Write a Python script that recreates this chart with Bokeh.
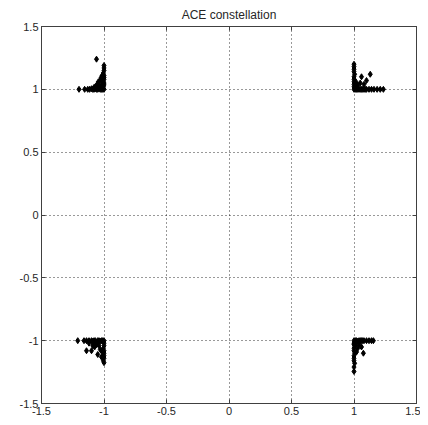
from bokeh.plotting import figure
from bokeh.models import LinearAxis, FixedTicker, Range1d, ColumnDataSource
from bokeh.embed import file_html
from bokeh.resources import INLINE

# ---- data ----
ul_x = [-1.20, -1.155, -1.13, -1.115, -1.10, -1.09, -1.08, -1.07, -1.06, -1.05, -1.04, -1.03, -1.02, -1.01, -1.0,
        -1.005, -1.0, -1.0, -1.005, -1.0, -1.0, -1.0, -1.005, -1.0, -1.0, -1.0,
        -1.06, -1.055, -1.045, -1.03, -1.025, -1.02, -1.035, -1.07, -1.015, -1.045, -1.08, -1.01]
ul_y = [1.0, 1.0, 1.0, 1.0, 1.005, 1.0, 1.0, 1.005, 1.0, 1.0, 1.005, 1.0, 1.0, 1.0, 1.0,
        1.02, 1.035, 1.05, 1.065, 1.08, 1.095, 1.11, 1.13, 1.15, 1.17, 1.19,
        1.24, 1.04, 1.06, 1.07, 1.09, 1.03, 1.025, 1.02, 1.11, 1.02, 1.015, 1.05]

ur_x = [1.0, 1.01, 1.02, 1.03, 1.04, 1.05, 1.06, 1.07, 1.08, 1.09, 1.10, 1.12, 1.14, 1.16, 1.185, 1.21, 1.235,
        1.0, 1.0, 1.0, 1.0, 1.0, 1.005, 1.0, 1.0, 1.0, 1.0,
        1.06, 1.13, 1.10, 1.05, 1.08, 1.03, 1.01, 1.015, 1.02, 1.02]
ur_y = [1.0, 1.0, 1.0, 1.0, 1.0, 1.0, 1.0, 1.0, 1.0, 1.0, 1.0, 1.0, 1.0, 1.0, 1.0, 1.0, 1.0,
        1.02, 1.04, 1.06, 1.08, 1.10, 1.12, 1.14, 1.16, 1.18, 1.20,
        1.10, 1.12, 1.07, 1.05, 1.04, 1.03, 1.03, 1.06, 1.01, 1.04]

ll_x = [-1.21, -1.16, -1.14, -1.12, -1.10, -1.09, -1.08, -1.07, -1.06, -1.05, -1.04, -1.03, -1.02, -1.01, -1.0,
        -1.0, -1.0, -1.005, -1.0, -1.0, -1.0, -1.0, -1.005, -1.0,
        -1.14, -1.10, -1.075, -1.05, -1.04, -1.03, -1.06, -1.02, -1.12, -1.08, -1.09, -1.015]
ll_y = [-1.0, -1.0, -1.0, -1.0, -1.0, -1.005, -1.0, -1.0, -1.01, -1.0, -1.0, -1.005, -1.0, -1.0, -1.0,
        -1.02, -1.04, -1.06, -1.08, -1.10, -1.12, -1.14, -1.16, -1.175,
        -1.08, -1.08, -1.05, -1.11, -1.04, -1.07, -1.03, -1.13, -1.02, -1.02, -1.04, -1.09]

lr_x = [1.0, 1.01, 1.02, 1.03, 1.04, 1.05, 1.06, 1.07, 1.08, 1.10, 1.12, 1.14, 1.155,
        1.0, 1.005, 1.0, 1.0, 1.005, 1.0, 1.0, 1.0, 1.005, 1.0, 1.0, 1.0,
        1.06, 1.075, 1.04, 1.03, 1.02, 1.01, 1.015]
lr_y = [-1.0, -1.0, -1.0, -1.005, -1.0, -1.0, -1.0, -1.0, -1.0, -1.0, -1.0, -1.0, -1.0,
        -1.02, -1.04, -1.06, -1.08, -1.10, -1.12, -1.14, -1.16, -1.18, -1.21, -1.245, -1.03,
        -1.05, -1.10, -1.03, -1.06, -1.09, -1.04, -1.02]

ticks = [-1.5, -1.0, -0.5, 0.0, 0.5, 1.0, 1.5]
tick_labels = ["-1.5", "-1", "-0.5", "0", "0.5", "1", "1.5"]
title_text = "ACE constellation"

xs = ul_x + ur_x + ll_x + lr_x
ys = ul_y + ur_y + ll_y + lr_y
src = ColumnDataSource(dict(x=xs, y=ys))

FONT = "Liberation Sans"
TXT = "#262626"
AX = "#404040"

p = figure(width=420, height=417, output_backend="svg", toolbar_location=None,
           x_range=Range1d(-1.5, 1.5), y_range=Range1d(-1.5, 1.5),
           min_border_left=41, min_border_right=4, min_border_top=0, min_border_bottom=0,
           x_axis_location=None, y_axis_location=None)

p.title.text = title_text
p.title.align = "center"
p.title.text_font = FONT
p.title.text_font_size = "12px"
p.title.text_font_style = "normal"
p.title.text_color = TXT
p.title.standoff = 10
p.title.offset = 0

p.outline_line_color = AX
p.outline_line_width = 1
p.background_fill_color = "white"
p.border_fill_color = "white"

overrides = {t: l for t, l in zip(ticks, tick_labels)}

def mk_axis(labels=True):
    a = LinearAxis(ticker=FixedTicker(ticks=ticks))
    a.axis_line_color = AX
    a.major_tick_line_color = AX
    a.major_tick_in = 4
    a.major_tick_out = 0
    a.minor_tick_line_color = None
    if labels:
        a.major_label_overrides = overrides
        a.major_label_text_font = FONT
        a.major_label_text_font_size = "11px"
        a.major_label_text_color = TXT
        a.major_label_standoff = 3
    else:
        a.major_label_text_color = None
        a.major_label_text_font_size = "0px"
        a.major_label_standoff = 0
    return a

p.add_layout(mk_axis(True), "below")
p.add_layout(mk_axis(True), "left")
p.add_layout(mk_axis(False), "above")
p.add_layout(mk_axis(False), "right")

p.xgrid.ticker = FixedTicker(ticks=ticks)
p.ygrid.ticker = FixedTicker(ticks=ticks)
for g in (p.xgrid, p.ygrid):
    g.grid_line_color = "black"
    g.grid_line_dash = "1 3"
    g.grid_line_alpha = 0.8

p.scatter("x", "y", source=src, marker="diamond", size=6, fill_color="black", line_color="black")

open("out.html", "w").write(file_html(p, INLINE))
